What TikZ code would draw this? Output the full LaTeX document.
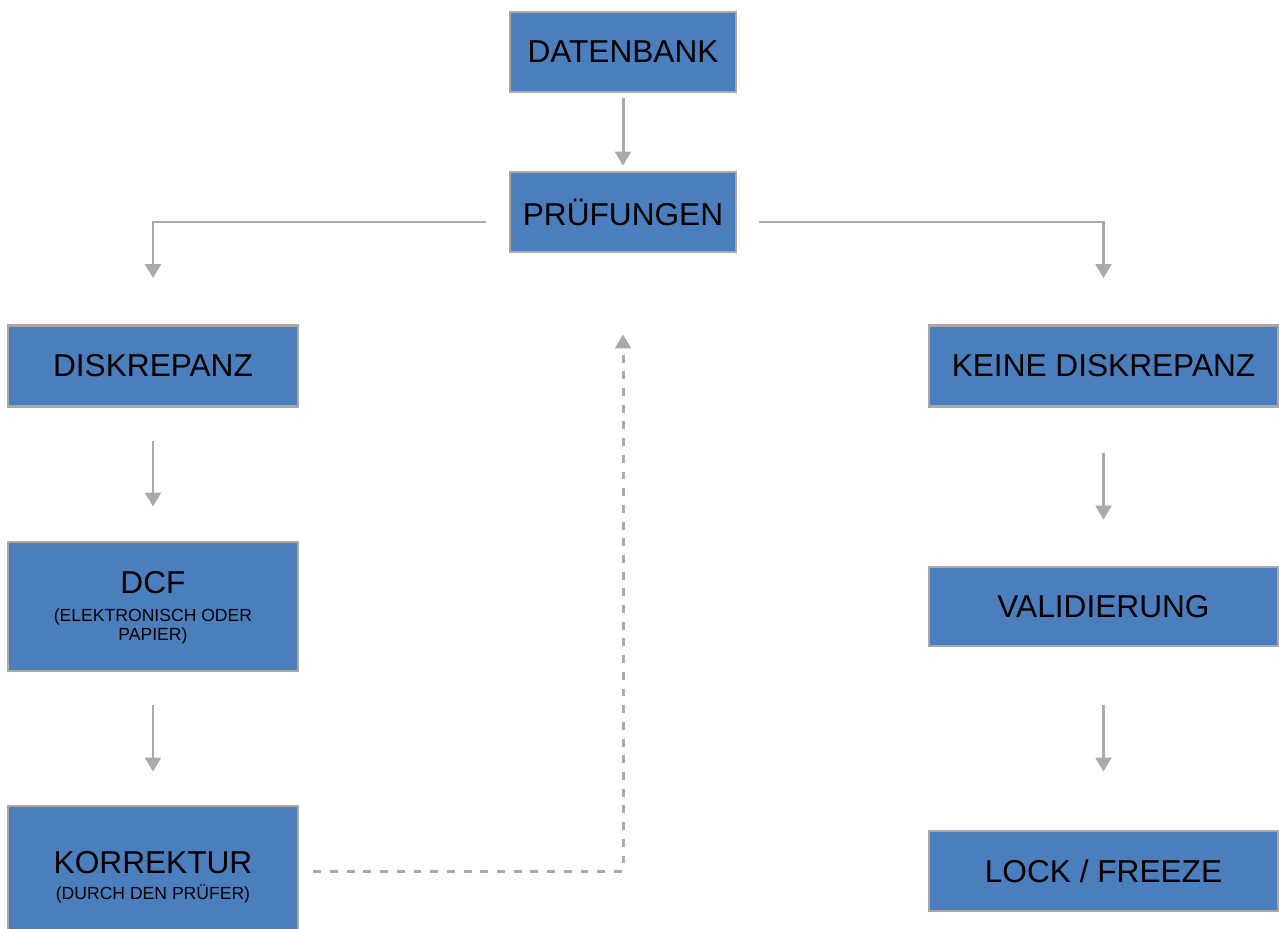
\documentclass[tikz,border=0pt]{standalone}
\usepackage{fontspec}
\setmainfont{Liberation Sans}
\usetikzlibrary{arrows.meta,positioning}
\definecolor{boxblue}{RGB}{74,126,189}
\definecolor{boxgray}{RGB}{168,168,168}
\definecolor{linegray}{RGB}{170,170,170}
\newcommand{\smalltxt}{\fontsize{10}{11.5}\selectfont}
\tikzset{
  box/.style={draw=boxgray, line width=1.6pt, fill=boxblue, text=black,
    align=center, inner sep=2pt, font=\fontsize{18}{21}\selectfont},
  narrowbox/.style={box, minimum width=5.8cm},
  widebox/.style={box, minimum width=6.98cm},
  conn/.style={draw=linegray, line width=1.7pt,
    -{Triangle[length=8pt,width=9pt]}},
  backconn/.style={conn, dash pattern=on 4.5pt off 5pt}
}
\begin{document}
\begin{tikzpicture}
  \useasboundingbox (0,0) rectangle (25.58,-18.56);
  % top
  \node[box, minimum width=4.52cm, minimum height=1.6cm] (datenbank) at (12.46,-1.04) {DATENBANK};
  \node[box, minimum width=4.52cm, minimum height=1.6cm] (pruef) at (12.46,-4.24) {PRÜFUNGEN};
  % left column
  \node[narrowbox, minimum height=2.58cm] (dcf) at (3.06,-12.13)
    {\rule{0pt}{14pt}DCF\\[-5pt]\smalltxt (ELEKTRONISCH ODER\\[-10pt]\smalltxt PAPIER)};
  \node[narrowbox, minimum height=1.62cm] (diskr) at (3.06,-7.32) {DISKREPANZ};
  \node[narrowbox, minimum height=2.84cm] (korr) at (3.06,-17.54)
    {KORREKTUR\\[-6pt]\smalltxt (DURCH DEN PRÜFER)};
  % right column
  \node[widebox, minimum height=1.62cm] (keine) at (22.07,-7.32) {KEINE DISKREPANZ};
  \node[widebox, minimum height=1.58cm] (valid) at (22.07,-12.13) {VALIDIERUNG};
  \node[widebox, minimum height=1.6cm] (lock) at (22.07,-17.42) {LOCK / FREEZE};
  % connectors
  \draw[conn, shorten <=0.1cm, shorten >=0.1cm] (datenbank) -- (pruef);
  \draw[conn, shorten <=0.46cm, shorten >=0.92cm] ([yshift=-0.2cm]pruef.west) -| (diskr.north);
  \draw[conn, shorten <=0.44cm, shorten >=0.92cm] ([yshift=-0.2cm]pruef.east) -| (keine.north);
  \draw[conn, shorten <=0.66cm, shorten >=0.68cm] (diskr) -- (dcf);
  \draw[conn, shorten <=0.66cm, shorten >=0.66cm] (dcf) -- (korr);
  \draw[conn, shorten <=0.9cm, shorten >=0.92cm] (keine) -- (valid);
  \draw[conn, shorten <=1.16cm, shorten >=1.16cm] (valid) -- (lock);
  \draw[backconn, shorten <=0.28cm, shorten >=1.62cm] ([yshift=0.12cm]korr.east) -| (pruef.south);
\end{tikzpicture}
\end{document}
